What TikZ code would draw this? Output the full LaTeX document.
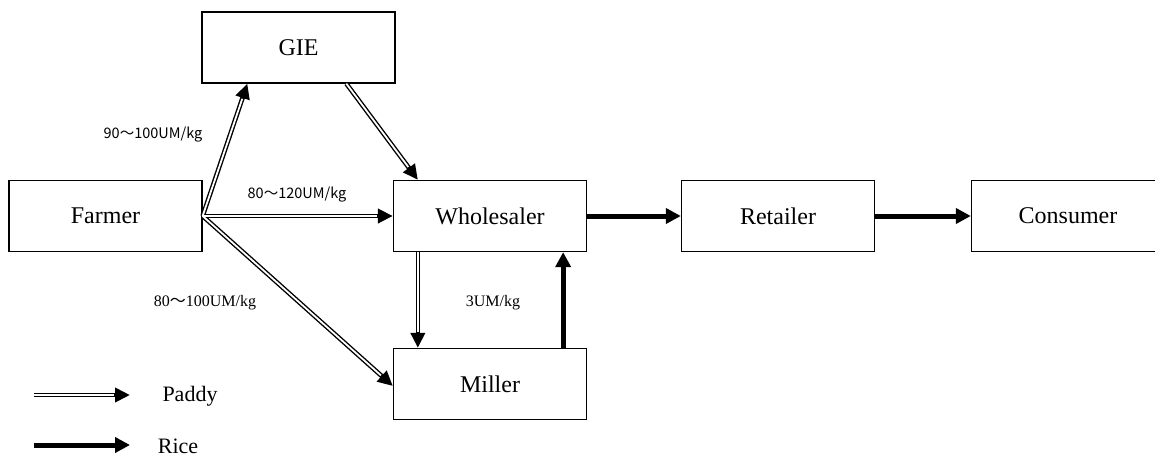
\documentclass[tikz,border=0pt]{standalone}
\usepackage{fontspec}
\setmainfont{Liberation Serif}
\newfontfamily\cjk{Noto Sans CJK JP}
\usetikzlibrary{arrows.meta}
\begin{document}
\begin{tikzpicture}[x=1pt,y=-1pt,
  box/.style={draw,line width=1.3pt,minimum width=193pt,minimum height=71pt,inner sep=0pt,font=\fontsize{24}{28}\selectfont},
  paddy/.style={draw=black,line width=4.6pt,-{Triangle[length=15pt,width=14pt]}},
  paddyin/.style={draw=white,line width=1.8pt,shorten >=16pt},
  rice/.style={draw,line width=5pt,-{Triangle[length=15pt,width=15pt]}},
  glab/.style={font=\cjk\fontsize{14.5}{17}\selectfont},
  slab/.style={font=\fontsize{16}{19}\selectfont}]
\clip (0,0) rectangle (1155,457);
\useasboundingbox (0,0) rectangle (1155,457);
\node[box] (gie) at (298.5,47.5) {GIE};
\node[box] (farmer) at (105.5,216) {Farmer};
\node[box] (whole) at (490,216) {Wholesaler};
\node[box] (retail) at (778,216) {Retailer};
\node[box] (cons) at (1068,216) {Consumer};
\node[box] (miller) at (490,384) {Miller};
% paddy flows
\draw[paddy] (farmer.east) -- ([xshift=46pt]gie.south west);
\draw[paddy] ([xshift=145pt]gie.south west) -- ([xshift=25pt]whole.north west);
\draw[paddy] (farmer.east) -- (whole.west);
\draw[paddy] (farmer.east) -- ([yshift=-2pt]miller.west);
\draw[paddy] ([xshift=25pt]whole.south west) -- ([xshift=25pt]miller.north west);
\draw[paddyin] (farmer.east) -- ([xshift=46pt]gie.south west);
\draw[paddyin] ([xshift=145pt]gie.south west) -- ([xshift=25pt]whole.north west);
\draw[paddyin] (farmer.east) -- (whole.west);
\draw[paddyin] (farmer.east) -- ([yshift=-2pt]miller.west);
\draw[paddyin] ([xshift=25pt]whole.south west) -- ([xshift=25pt]miller.north west);
% rice flows
\draw[rice] ([xshift=-24pt]miller.north east) -- ([xshift=-24pt]whole.south east);
\draw[rice] (whole.east) -- (retail.west);
\draw[rice] (retail.east) -- (cons.west);
% labels
\node[glab] (l1) at (153,135) {90〜100UM/kg};
\node[glab] (l2) at (297,195) {80〜120UM/kg};
\node[slab] (l3) at (205,303) {80{\cjk〜}100UM/kg};
\node[slab] (l4) at (493,303) {3UM/kg};
% legend
\coordinate (pa) at (34,395);
\coordinate (pb) at (130,395);
\coordinate (ra) at (34,445);
\coordinate (rb) at (130,445);
\draw[paddy] (pa) -- (pb);
\draw[paddyin] (pa) -- (pb);
\draw[rice] (ra) -- (rb);
\node[font=\fontsize{22}{26}\selectfont] (lp) at (190,396) {Paddy};
\node[font=\fontsize{22}{26}\selectfont] (lr) at (178,446) {Rice};
\end{tikzpicture}
\end{document}
